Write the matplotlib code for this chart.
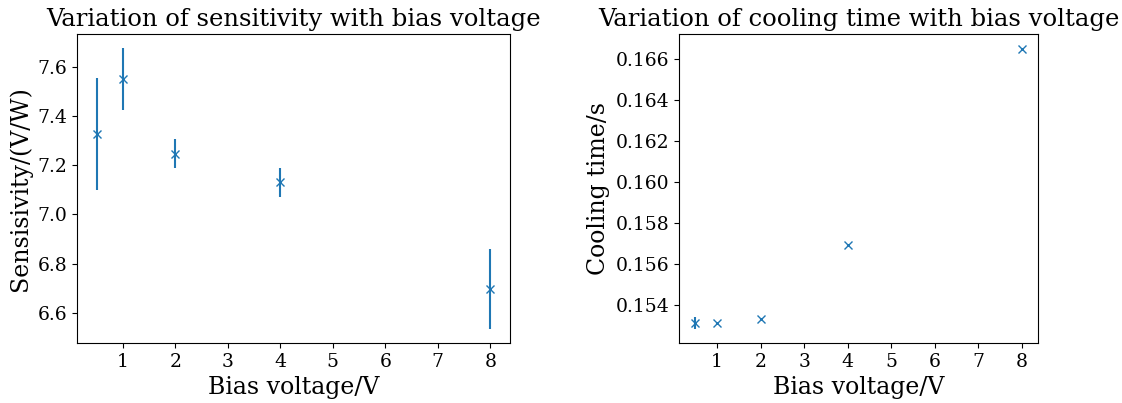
import numpy as np
import matplotlib
matplotlib.use('Agg')
import matplotlib.pyplot as plt
from matplotlib.ticker import MultipleLocator

plt.rcParams['font.family'] = 'DejaVu Serif'

bias = [0.5, 1, 2, 4, 8]
sens = [7.326, 7.549, 7.247, 7.130, 6.698]
sens_err = [0.226, 0.126, 0.060, 0.060, 0.163]
cool = [0.15315, 0.15312, 0.15333, 0.15694, 0.16647]
cool_err = [0.0003, 0.00004, 0.00004, 0.00004, 0.00004]

fig = plt.figure(figsize=(11.22, 4.03), dpi=100)
ax1 = fig.add_axes([77 / 1122, 60 / 403, 433 / 1122, 309 / 403])
ax2 = fig.add_axes([679 / 1122, 60 / 403, 359 / 1122, 309 / 403])

ax1.errorbar(bias, sens, yerr=sens_err, fmt='x')
ax1.set_title('Variation of sensitivity with bias voltage', fontsize=17.5)
ax1.set_xlabel('Bias voltage/V', fontsize=17)
ax1.set_ylabel('Sensisivity/(V/W)', fontsize=17)

ax2.errorbar(bias, cool, yerr=cool_err, fmt='x')
ax2.set_title('Variation of cooling time with bias voltage', fontsize=17.5)
ax2.set_xlabel('Bias voltage/V', fontsize=17)
ax2.set_ylabel('Cooling time/s', fontsize=17)

for ax in (ax1, ax2):
    ax.xaxis.set_major_locator(MultipleLocator(1))
    ax.tick_params(labelsize=13.5)

fig.savefig('out.png', dpi=100)
